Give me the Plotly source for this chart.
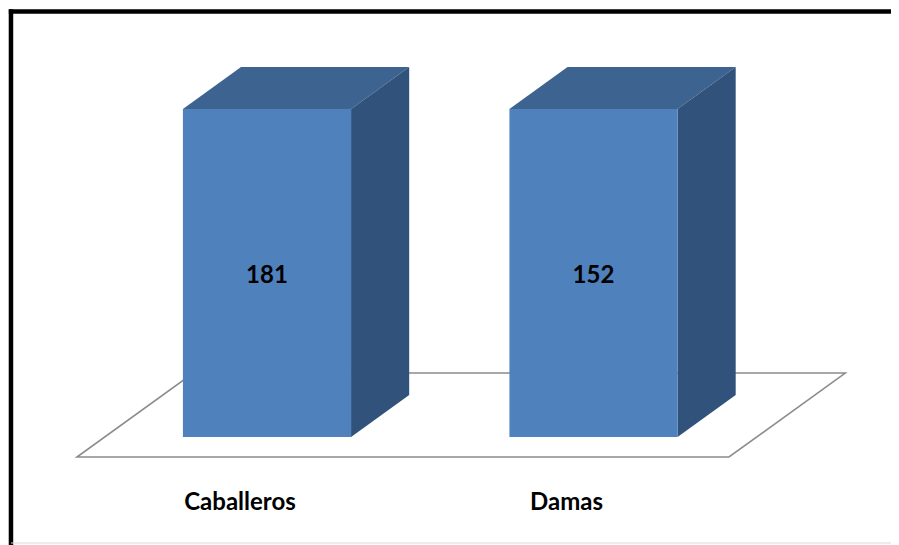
import plotly.graph_objects as go

categories = ["Caballeros", "Damas"]
values = [181, 152]
# one series shown as 100% stacked columns: every column is its own total
totals = [181, 152]

FRONT = "#4F81BD"
TOP = "#3D6491"
SIDE = "#31527A"
FLOOR = "#8C8C8C"
FONT = "Lato"

bar_w = 0.515
dx, dy = 0.178, 12.8  # 3D depth of a column, in axis units

xs = list(range(len(categories)))
share = [100 * v / t for v, t in zip(values, totals)]

fig = go.Figure()
fig.add_trace(
    go.Bar(x=xs, y=values, width=bar_w,
           marker=dict(color=FRONT, line=dict(width=0)),
           text=values, texttemplate="%{text}",
           textposition="inside", insidetextanchor="middle",
           textfont=dict(family=FONT, size=24, color="black", weight="bold"),
           hoverinfo="skip", showlegend=False)
)

shapes = []
# floor of the 3D plot
fl, fr, fy = xs[0] - 0.582, xs[-1] + 0.415, -6.1
shapes.append(dict(type="path", xref="x", yref="y", layer="below",
                   path=f"M{fl},{fy} L{fr},{fy} L{fr + 2 * dx},{fy + 2 * dy} "
                        f"L{fl + 2 * dx},{fy + 2 * dy} Z",
                   line=dict(color=FLOOR, width=1.6)))

# top and side faces of each column
for x, s in zip(xs, share):
    x0, x1 = x - bar_w / 2, x + bar_w / 2
    shapes.append(dict(type="path", xref="x", yref="y", layer="below",
                       path=f"M{x0},{s} L{x1},{s} L{x1 + dx},{s + dy} L{x0 + dx},{s + dy} Z",
                       fillcolor=TOP, line=dict(width=0)))
    shapes.append(dict(type="path", xref="x", yref="y", layer="below",
                       path=f"M{x1},0 L{x1},{s} L{x1 + dx},{s + dy} L{x1 + dx},{dy} Z",
                       fillcolor=SIDE, line=dict(width=0)))

# frame of the picture (left / top black, bottom light grey)
shapes.append(dict(type="line", xref="paper", yref="paper", x0=-0.0105, x1=-0.0105,
                   y0=-0.14, y1=1.023, line=dict(color="black", width=4.5)))
shapes.append(dict(type="line", xref="paper", yref="paper", x0=-0.013, x1=1.05,
                   y0=1.0183, y1=1.0183, line=dict(color="black", width=4.5)))
shapes.append(dict(type="line", xref="paper", yref="paper", x0=-0.0105, x1=1.05,
                   y0=-0.1247, y1=-0.1247, line=dict(color="#D9D9D9", width=1)))

fig.update_layout(
    width=899, height=545,
    margin=dict(l=12, r=27, t=12, b=68),
    paper_bgcolor="white", plot_bgcolor="white",
    barmode="stack", barnorm="percent",
    shapes=shapes,
    xaxis=dict(range=[-0.7565, 1.8775], tickvals=xs, ticktext=categories,
               showgrid=False, zeroline=False, showline=False, ticks="",
               ticklabelshift=-27,
               tickfont=dict(family=FONT, size=24, color="black", weight="bold")),
    yaxis=dict(range=[-14.63, 127.13], visible=False, showgrid=False, zeroline=False),
)

fig.write_html("out.html")
